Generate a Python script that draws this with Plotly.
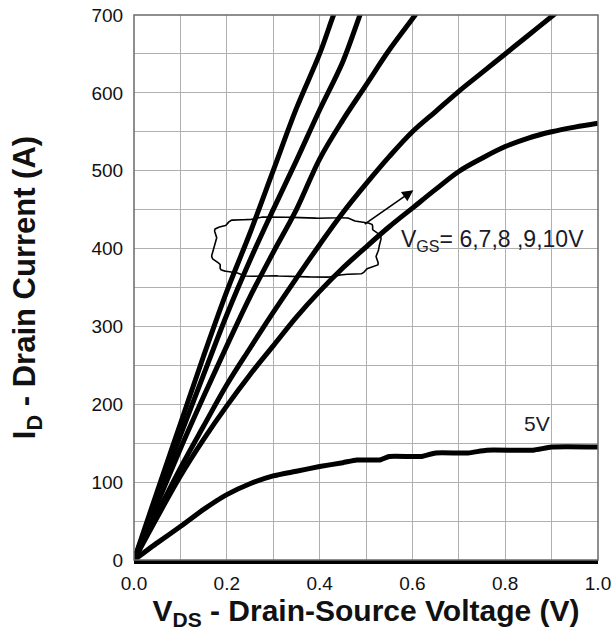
import numpy as np
import plotly.graph_objects as go

# ---- data (V_DS in V, I_D in A) ----
vds_10v = [0, 0.05, 0.10, 0.15, 0.20, 0.25, 0.30, 0.35, 0.40, 0.43, 0.45]
id_10v = [0, 88, 175, 262, 345, 420, 500, 580, 650, 700, 730]

vds_9v = [0, 0.05, 0.10, 0.15, 0.20, 0.25, 0.30, 0.35, 0.40, 0.45, 0.487, 0.50]
id_9v = [0, 80, 160, 238, 315, 385, 450, 513, 578, 640, 700, 720]

vds_8v = [0, 0.05, 0.10, 0.15, 0.20, 0.25, 0.30, 0.35, 0.40, 0.45, 0.50, 0.55, 0.606, 0.62]
id_8v = [0, 72, 143, 210, 275, 338, 395, 450, 515, 565, 610, 655, 700, 712]

vds_7v = [0, 0.05, 0.10, 0.15, 0.20, 0.25, 0.30, 0.35, 0.40, 0.45, 0.50, 0.55, 0.60,
          0.65, 0.70, 0.75, 0.80, 0.85, 0.904, 0.92]
id_7v = [0, 60, 118, 172, 225, 272, 318, 362, 405, 446, 483, 518, 550,
         576, 602, 626, 650, 674, 700, 708]

vds_6v = [0, 0.05, 0.10, 0.15, 0.20, 0.25, 0.30, 0.35, 0.40, 0.45, 0.50, 0.55, 0.60,
          0.65, 0.70, 0.75, 0.80, 0.85, 0.90, 0.95, 1.00]
id_6v = [0, 55, 108, 155, 198, 238, 275, 312, 345, 375, 402, 428, 452,
         476, 499, 516, 531, 542, 550, 556, 561]

vds_5v = [0, 0.05, 0.10, 0.15, 0.20, 0.25, 0.30, 0.35, 0.40, 0.45, 0.48, 0.53, 0.55,
          0.62, 0.65, 0.72, 0.76, 0.86, 0.90, 1.00]
id_5v = [0, 22, 43, 65, 84, 98, 108, 114, 120, 125, 128.5, 128.5, 133,
         133, 137.5, 137.5, 141, 141, 145, 145]

x_ticks = [0.0, 0.2, 0.4, 0.6, 0.8, 1.0]
y_ticks = [0, 100, 200, 300, 400, 500, 600, 700]

FONT = "Liberation Sans, Arial, sans-serif"
LINE_W = 5

fig = go.Figure()
for vx, iy in [(vds_10v, id_10v), (vds_9v, id_9v), (vds_8v, id_8v),
               (vds_7v, id_7v), (vds_6v, id_6v)]:
    fig.add_trace(go.Scatter(x=vx, y=iy, mode="lines",
                             line=dict(color="black", width=LINE_W, shape="spline", smoothing=1.0),
                             showlegend=False, hoverinfo="skip"))
fig.add_trace(go.Scatter(x=vds_5v, y=id_5v, mode="lines",
                         line=dict(color="black", width=LINE_W, shape="spline", smoothing=0.5),
                         showlegend=False, hoverinfo="skip"))

# cloud outline (annotation decoration) around the VGS curves
t = np.linspace(0, 2 * np.pi, 400)
n = 3.6
cx, cy, hw, hh = 0.350, 402.0, 0.178, 38.0
ct, st = np.cos(t), np.sin(t)
rx = np.sign(ct) * np.abs(ct) ** (2 / n)
ry = np.sign(st) * np.abs(st) ** (2 / n)
wob = 1 + 0.03 * np.sin(12 * t)
cloud_x = cx + hw * rx * wob
cloud_y = cy + hh * ry * wob
fig.add_trace(go.Scatter(x=cloud_x, y=cloud_y, mode="lines",
                         line=dict(color="black", width=1.6),
                         showlegend=False, hoverinfo="skip"))

# frame
fig.add_shape(type="rect", xref="paper", yref="paper", x0=0, y0=0, x1=1, y1=1,
              line=dict(color="#6a6a6a", width=1.5), layer="above")

fig.add_annotation(x=0.602, y=475, ax=0.494, ay=430, xref="x", yref="y",
                   axref="x", ayref="y", text="", showarrow=True,
                   arrowhead=2, arrowsize=1.4, arrowwidth=1.6, arrowcolor="black")
fig.add_annotation(x=0.572, y=410, xref="x", yref="y", xanchor="left", yanchor="middle",
                   text="V<sub>GS</sub>= 6,7,8 ,9,10V", showarrow=False,
                   font=dict(family=FONT, size=23, color="#1a1a2a"))
fig.add_annotation(x=0.868, y=175, xref="x", yref="y", xanchor="center", yanchor="middle",
                   text="5V", showarrow=False,
                   font=dict(family=FONT, size=21, color="#1a1a2a"))

grid_c = "#b0b0b0"
fig.update_layout(
    width=614, height=638,
    margin=dict(l=134, r=16, t=15, b=78, autoexpand=False),
    paper_bgcolor="white", plot_bgcolor="white",
    font=dict(family=FONT, color="black"),
    xaxis=dict(range=[0, 1.0], tickvals=x_ticks, tickformat=".1f",
               showgrid=True, gridcolor=grid_c, gridwidth=1,
               minor=dict(dtick=0.1, tick0=0, showgrid=True, gridcolor=grid_c, gridwidth=1),
               showline=True, linecolor="black", linewidth=4, mirror=False,
               zeroline=False, ticks="outside", ticklen=3, tickcolor="rgba(0,0,0,0)",
               ticklabeloverflow="allow",
               tickfont=dict(family=FONT, size=19, color="#111"),
               title=dict(text="<b>V<sub>DS</sub> - Drain-Source Voltage (V)</b>",
                          font=dict(family=FONT, size=30, color="#111"), standoff=2),
               automargin=False, fixedrange=True),
    yaxis=dict(range=[0, 700], tickvals=y_ticks,
               showgrid=True, gridcolor=grid_c, gridwidth=1,
               minor=dict(dtick=50, tick0=0, showgrid=True, gridcolor=grid_c, gridwidth=1),
               showline=False, zeroline=False,
               ticks="outside", ticklen=6, tickcolor="rgba(0,0,0,0)",
               ticklabeloverflow="allow",
               tickfont=dict(family=FONT, size=19, color="#111"),
               title=dict(text="<b>I<sub>D</sub> - Drain Current (A)</b>",
                          font=dict(family=FONT, size=31, color="#111"), standoff=46),
               automargin=False, fixedrange=True),
)

fig.write_html("out.html", config={"displayModeBar": False},
               post_script="document.body.style.margin='0px';document.body.style.overflow='hidden';")
